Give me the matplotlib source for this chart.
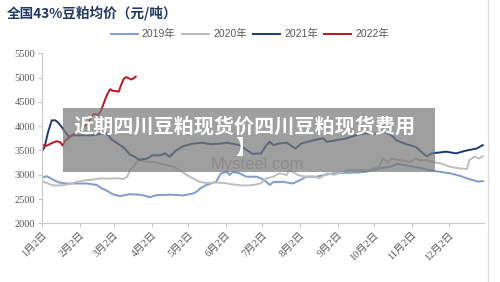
"""Soybean meal (43%) national average price, 2019-2022, by day of year — with the grey headline overlay."""
import matplotlib
matplotlib.use("Agg")
import matplotlib.pyplot as plt
from matplotlib.patches import Rectangle

plt.rcParams["font.family"] = ["Liberation Serif", "Noto Sans CJK SC"]

# ---- data (x = days since Jan 2, y = yuan/ton) ----
d2019 = [0, 4, 9, 14, 20, 30, 37, 45, 49, 52, 58, 64, 72, 80, 86, 88, 94, 106, 116, 121, 124, 127, 130, 135,
         143, 147, 152, 154, 157, 162, 168, 176, 180, 184, 187, 190, 198, 206, 212, 217, 225, 233, 239, 250,
         258, 266, 277, 286, 292, 297, 305, 313, 318, 327, 335, 343, 349, 354, 358, 362]
v2019 = [2940, 2970, 2900, 2840, 2820, 2820, 2820, 2790, 2720, 2690, 2600, 2560, 2600, 2590, 2560, 2535, 2580,
         2590, 2575, 2600, 2615, 2650, 2720, 2790, 2855, 3030, 3060, 2995, 3060, 3030, 2960, 2960, 2925, 2860,
         2790, 2850, 2855, 2820, 2890, 2960, 2960, 3000, 3030, 3040, 3045, 3060, 3130, 3165, 3225, 3200, 3165,
         3130, 3095, 3060, 3030, 2980, 2925, 2890, 2860, 2870]
d2020 = [0, 4, 9, 16, 23, 28, 34, 42, 48, 56, 62, 67, 70, 72, 75, 78, 80, 86, 91, 97, 102, 108, 113, 119, 124,
         130, 135, 143, 150, 157, 164, 170, 176, 180, 184, 190, 195, 201, 203, 206, 210, 216, 222, 228, 234, 240,
         244, 252, 261, 269, 277, 280, 284, 287, 294, 302, 307, 310, 316, 321, 328, 335, 343, 349, 351, 355, 359,
         362]
v2020 = [2870, 2830, 2780, 2780, 2810, 2850, 2880, 2900, 2925, 2920, 2930, 2910, 2960, 3080, 3165, 3265, 3300,
         3265, 3265, 3230, 3200, 3165, 3095, 2995, 2925, 2850, 2830, 2840, 2830, 2800, 2780, 2780, 2800, 2830,
         2925, 2960, 3030, 2995, 3095, 3060, 2995, 2960, 2965, 2930, 3030, 3000, 3030, 3095, 3095, 3095, 3165,
         3335, 3265, 3335, 3300, 3265, 3335, 3300, 3300, 3265, 3230, 3165, 3130, 3120, 3300, 3370, 3335, 3380]
d2021 = [0, 2, 5, 8, 11, 13, 16, 19, 22, 24, 26, 34, 42, 48, 53, 57, 63, 68, 72, 76, 80, 86, 91, 97, 101, 105,
         110, 116, 124, 132, 138, 146, 152, 162, 168, 173, 180, 184, 187, 190, 195, 201, 208, 213, 223, 231, 234,
         242, 250, 258, 264, 275, 282, 287, 291, 299, 307, 313, 316, 320, 332, 340, 348, 357, 362]
v2021 = [3490, 3560, 3880, 4120, 4120, 4080, 3990, 3880, 3790, 3800, 3815, 3810, 3815, 3840, 3860, 3730, 3630,
         3540, 3420, 3370, 3310, 3330, 3400, 3400, 3440, 3370, 3500, 3590, 3640, 3660, 3630, 3640, 3660, 3610,
         3510, 3430, 3440, 3600, 3680, 3610, 3645, 3660, 3540, 3645, 3710, 3750, 3680, 3710, 3750, 3815, 3850,
         3850, 3885, 3815, 3710, 3630, 3575, 3440, 3380, 3440, 3475, 3440, 3495, 3540, 3610]
d2022 = [0, 4, 8, 12, 15, 17, 19, 22, 25, 28, 32, 35, 38, 40, 42, 44, 46, 48, 50, 52, 54, 56, 58, 61, 63, 65, 67,
         69, 71, 73, 75, 77]
v2022 = [3610, 3600, 3650, 3690, 3670, 3600, 3700, 3760, 3820, 3870, 3920, 4000, 4080, 4160, 4240, 4250, 4220,
         4300, 4420, 4560, 4680, 4760, 4730, 4720, 4710, 4850, 4970, 5010, 4990, 4960, 4980, 5020]

series = [("2019年", d2019, v2019, "#7f9dcc"), ("2020年", d2020, v2020, "#bdbdbd"),
          ("2021年", d2021, v2021, "#1c3a72"), ("2022年", d2022, v2022, "#c0141c")]
month_days = [0, 31, 59, 90, 120, 151, 181, 212, 243, 273, 304, 334]
month_labels = [f"{m}月2日" for m in range(1, 13)]
yticks = [2000, 2500, 3000, 3500, 4000, 4500, 5000, 5500]

title = "全国43%豆粕均价（元/吨）"
headline = "近期四川豆粕现货价四川豆粕现货费用\n】"

fig = plt.figure(figsize=(5.0, 2.82), dpi=100)
ax = fig.add_axes([0.084, 0.208, 0.884, 0.603])
for name, d, v, c in series:
    ax.plot(d, v, color=c, lw=1.4, label=name)
ax.set_xlim(0, 363); ax.set_ylim(2000, 5500)
ax.set_yticks(yticks); ax.set_yticklabels([str(t) for t in yticks], fontsize=7.5, color="#595959")
ax.set_xticks(month_days)
ax.set_xticklabels(month_labels, fontsize=7.5, color="#595959", rotation=45, ha="right", va="top",
                   rotation_mode="anchor")
for s in ("top", "right"):
    ax.spines[s].set_visible(False)
for s in ("left", "bottom"):
    ax.spines[s].set_color("#c8c8c8"); ax.spines[s].set_linewidth(0.8)
ax.tick_params(axis="both", color="#c8c8c8", length=3, width=0.8, pad=2)

fig.text(0.014, 0.953, title, fontsize=9.8, fontweight="bold", color="#1f3864", va="center",
         family=["Noto Sans CJK SC"])
fig.legend(loc="center", bbox_to_anchor=(0.5, 0.878), ncol=4, frameon=False,
           handlelength=2.6, handletextpad=0.4, columnspacing=0.6, labelcolor="#595959",
           prop={"family": ["Liberation Sans", "Noto Sans CJK SC"], "size": 7.5})

# grey headline banner laid over the chart, with the faint watermark
fig.patches.append(Rectangle((0.126, 0.39), 0.744, 0.228, transform=fig.transFigure,
                             facecolor="#7a7a7a", alpha=0.72, edgecolor="none", zorder=5))
fig.text(0.515, 0.418, "Mysteel.com", fontsize=12, color="#8c8c8c", ha="center", va="center",
         family=["Liberation Sans"], zorder=6)
fig.text(0.49, 0.515, headline, fontsize=14.5, fontweight="bold", color="white", ha="center", va="center",
         linespacing=1.0, family=["Noto Sans CJK SC"], zorder=7)
fig.add_artist(plt.Line2D([0.976, 0.976], [0, 1], transform=fig.transFigure, color="#d9d9d9", lw=0.8))

fig.savefig("out.png", dpi=100)
